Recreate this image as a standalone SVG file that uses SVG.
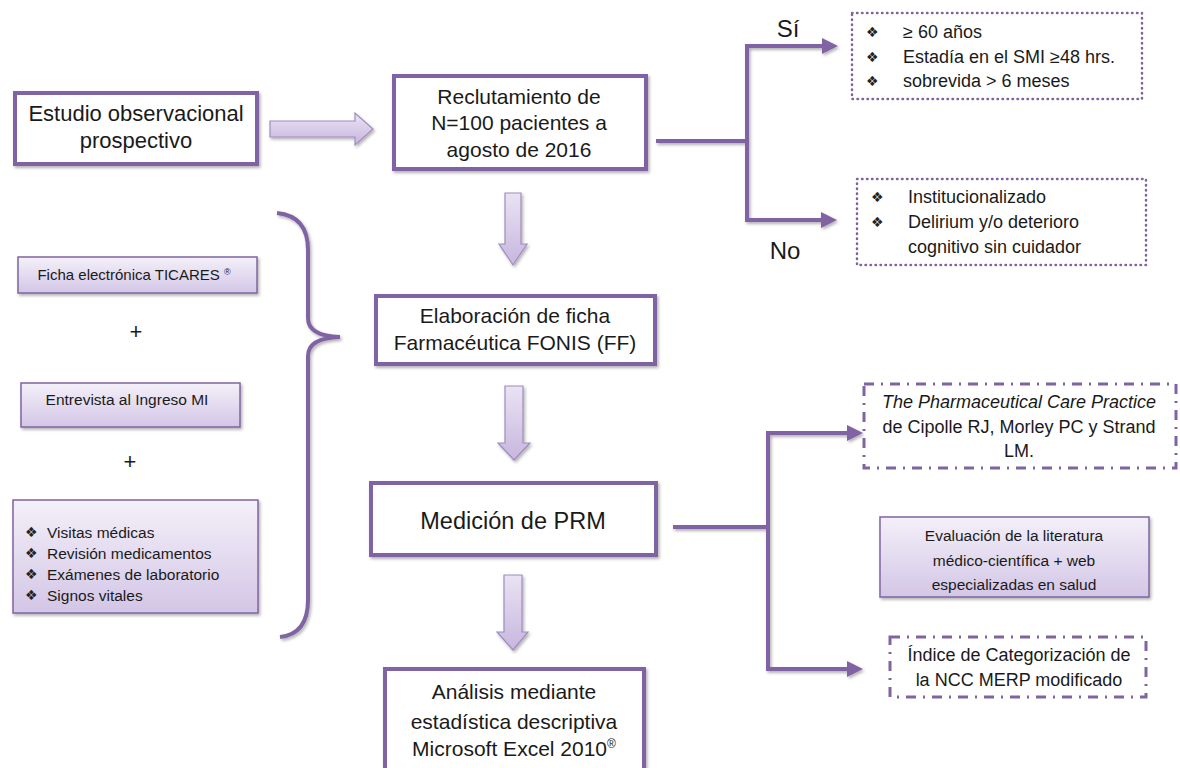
<svg xmlns="http://www.w3.org/2000/svg" width="1180" height="768" viewBox="0 0 1180 768">
<defs>
<linearGradient id="gFill" x1="0" y1="0" x2="0" y2="1"><stop offset="0" stop-color="#f4f0f9"/><stop offset="1" stop-color="#d3c6e6"/></linearGradient>
<linearGradient id="gArrowV" x1="0" y1="0" x2="0" y2="1"><stop offset="0" stop-color="#eae3f3"/><stop offset="1" stop-color="#c7b6de"/></linearGradient>
<filter id="sh" x="-10%" y="-10%" width="130%" height="140%"><feDropShadow dx="1.5" dy="2" stdDeviation="1.5" flood-color="#000" flood-opacity="0.3"/></filter>
<filter id="shu" filterUnits="userSpaceOnUse" x="0" y="0" width="1180" height="768"><feDropShadow dx="1.5" dy="2" stdDeviation="1.5" flood-color="#000" flood-opacity="0.3"/></filter>
<marker id="ah" markerWidth="16" markerHeight="16" refX="4" refY="8" orient="auto" markerUnits="userSpaceOnUse" viewBox="0 0 16 16"><path d="M0,0 L16,8 L0,16 Z" fill="#8064a2"/></marker>
<style>
.main{fill:#fff;stroke:#8064a2;stroke-width:4}
.fillbox{fill:url(#gFill);stroke:#8064a2;stroke-width:1.5}
.dot{fill:#fff;stroke:#8064a2;stroke-width:2.5;stroke-dasharray:0.5 4.5;stroke-linecap:round}
.dd{fill:#fff;stroke:#8064a2;stroke-width:3;stroke-dasharray:10 7 2 7}
.blk{fill:url(#gArrowV);stroke:#a08cc0;stroke-width:1.2}
.con{fill:none;stroke:#8064a2;stroke-width:4}
text{font-family:"Liberation Sans",Arial,sans-serif;fill:#1a1a1a}
.t20{font-size:21px}
.t17{font-size:18px}
.t15{font-size:18px}
.t14{font-size:15.5px}
.bul{font-family:"DejaVu Sans",sans-serif;font-size:14px;fill:#222}
.mid{text-anchor:middle}
</style>
</defs>
<rect width="1180" height="768" fill="#fff"/>

<g id="connectors" filter="url(#shu)">
<path class="blk" d="M270,121 H355 V113 L373,129 L355,145 V137 H270 Z"/>
<path class="blk" d="M505,193 H521 V244 H527 L513,265 L499,244 H505 Z"/>
<path class="blk" d="M505,386 H523 V443 H530 L514,460 L498,443 H505 Z"/>
<path class="blk" d="M504,575 H522 V632 H528 L513,650 L497,632 H504 Z"/>
<path class="con" d="M656,141 H747"/>
<path class="con" d="M747,220 V46"/>
<path class="con" d="M745,46 H826" marker-end="url(#ah)"/>
<path class="con" d="M745,220 H825" marker-end="url(#ah)"/>
<path class="con" d="M673,527 H768"/>
<path class="con" d="M768,669 V433"/>
<path class="con" d="M766,433 H851" marker-end="url(#ah)"/>
<path class="con" d="M766,669 H851" marker-end="url(#ah)"/>
<path d="M277,213 Q308,216 308,250 V318 Q308,336 340,337 Q308,338 308,356 V600 Q308,634 280,637" fill="none" stroke="#8064a2" stroke-width="4"/>
</g>
<g id="labels">
<text x="788" y="37" style="font-size:24px" class="mid">Sí</text>
<text x="785" y="259" style="font-size:24px" class="mid">No</text>
<text x="136" y="339" style="font-size:22px" class="mid">+</text>
<text x="130" y="469" style="font-size:22px" class="mid">+</text>
</g>

<g id="n-estudio">
<rect class="main" x="15" y="93" width="242" height="71" filter="url(#sh)"/>
<text class="mid" style="font-size:22px" x="136" y="121">Estudio observacional</text>
<text class="mid" style="font-size:22px" x="136" y="148">prospectivo</text>
</g>

<g id="n-reclutamiento">
<rect class="main" x="394" y="76" width="252" height="93" filter="url(#sh)"/>
<text class="t20 mid" x="519" y="104">Reclutamiento de</text>
<text class="t20 mid" x="519" y="130">N=100 pacientes  a</text>
<text class="t20 mid" x="519" y="157">agosto de 2016</text>
</g>

<g id="n-si">
<rect class="dot" x="852" y="13" width="290" height="86"/>
<text class="bul" x="866" y="37">❖</text><text class="t15" x="903" y="38">≥ 60 años</text>
<text class="bul" x="866" y="62">❖</text><text class="t15" x="903" y="63">Estadía en el SMI  ≥48 hrs.</text>
<text class="bul" x="866" y="86">❖</text><text class="t15" x="903" y="87">sobrevida &gt; 6 meses</text>
</g>

<g id="n-no">
<rect class="dot" x="857" y="179" width="289" height="86"/>
<text class="bul" x="871" y="202">❖</text><text class="t15" x="908" y="203">Institucionalizado</text>
<text class="bul" x="871" y="227">❖</text><text class="t15" x="908" y="228">Delirium y/o deterioro</text>
<text class="t15" x="908" y="253">cognitivo sin cuidador</text>
</g>

<g id="n-ficha">
<rect class="main" x="376" y="296" width="279" height="68" filter="url(#sh)"/>
<text class="t20 mid" x="515" y="323">Elaboración de ficha</text>
<text class="t20 mid" x="515" y="350">Farmacéutica FONIS (FF)</text>
</g>

<g id="n-medicion">
<rect class="main" x="371" y="483" width="285" height="72" filter="url(#sh)"/>
<text class="mid" style="font-size:23.5px" x="513" y="529">Medición de PRM</text>
</g>

<g id="n-analisis">
<rect class="main" x="385" y="669" width="259" height="104" filter="url(#sh)"/>
<text class="t20 mid" x="514" y="699">Análisis mediante</text>
<text class="t20 mid" x="514" y="729">estadística descriptiva</text>
<text class="t20 mid" x="514" y="756">Microsoft Excel 2010<tspan style="font-size:12px" dy="-8">®</tspan></text>
</g>

<g id="n-ticares">
<rect class="fillbox" x="18" y="257" width="239" height="36" filter="url(#sh)"/>
<text class="mid" style="font-size:15px" x="134" y="280">Ficha electrónica TICARES <tspan style="font-size:9px" dy="-5">®</tspan></text>
</g>

<g id="n-entrevista">
<rect class="fillbox" x="21" y="383" width="219" height="44" filter="url(#sh)"/>
<text class="t14 mid" x="127" y="405">Entrevista al Ingreso MI</text>
</g>

<g id="n-lista">
<rect class="fillbox" x="13" y="500" width="245" height="113" filter="url(#sh)"/>
<text class="bul" x="25" y="537">❖</text><text class="t14" x="47" y="538">Visitas médicas</text>
<text class="bul" x="25" y="558">❖</text><text class="t14" x="47" y="559">Revisión medicamentos</text>
<text class="bul" x="25" y="579">❖</text><text class="t14" x="47" y="580">Exámenes de laboratorio</text>
<text class="bul" x="25" y="600">❖</text><text class="t14" x="47" y="601">Signos vitales</text>
</g>

<g id="n-cipolle">
<rect class="dd" x="864" y="384" width="312" height="84"/>
<text class="t17 mid" x="1019" y="408" font-style="italic">The Pharmaceutical Care Practice</text>
<text class="t17 mid" x="1019" y="433">de Cipolle RJ, Morley PC y Strand</text>
<text class="t17 mid" x="1019" y="457">LM.</text>
</g>

<g id="n-evaluacion">
<rect class="fillbox" x="880" y="517" width="269" height="80" filter="url(#sh)"/>
<text class="t14 mid" x="1014" y="541">Evaluación de la literatura</text>
<text class="t14 mid" x="1014" y="566">médico-científica + web</text>
<text class="t14 mid" x="1014" y="590">especializadas en salud</text>
</g>

<g id="n-indice">
<rect class="dd" x="890" y="637" width="256" height="60"/>
<text class="t17 mid" x="1019" y="661">Índice de Categorización de</text>
<text class="t17 mid" x="1019" y="686">la NCC MERP modificado</text>
</g>
</svg>
